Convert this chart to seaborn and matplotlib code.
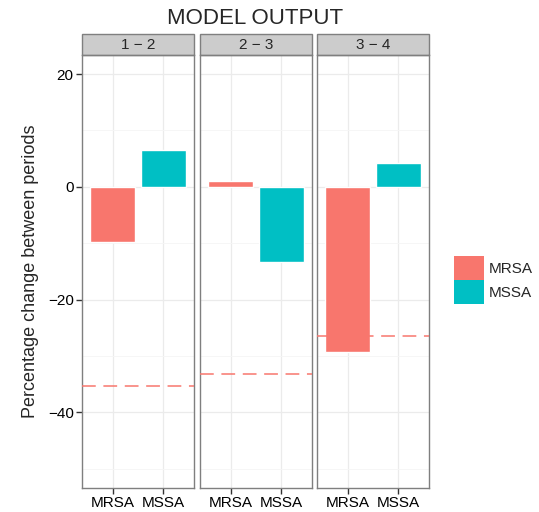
"""Model output: percentage change between periods, faceted by period pair."""

import matplotlib.pyplot as plt
import pandas as pd
import seaborn as sns
from matplotlib.patches import Patch, Rectangle

periods = ["1 \u2212 2", "2 \u2212 3", "3 \u2212 4"]
organisms = ["MRSA", "MSSA"]
mrsa_change = [-9.8, 1.0, -29.3]
mssa_change = [6.5, -13.4, 4.3]
threshold = [-35.4, -33.3, -26.4]

colors = {"MRSA": "#F8766D", "MSSA": "#00BFC4"}

df = pd.DataFrame({
    "period": periods * 2,
    "organism": ["MRSA"] * 3 + ["MSSA"] * 3,
    "change": mrsa_change + mssa_change,
})

sns.set_theme(style="white")
plt.rcParams["font.family"] = ["Liberation Sans", "DejaVu Sans"]

W, H = 539, 512
fig = plt.figure(figsize=(W / 100, H / 100), dpi=100)

lefts = [82, 200, 317]
pw = 112
top, bottom = 55, 487.7
strip_h = 21

axes = []
for i, period in enumerate(periods):
    ax = fig.add_axes([lefts[i] / W, 1 - bottom / H, pw / W, (bottom - top) / H])
    axes.append(ax)
    sub = df[df["period"] == period]
    sns.barplot(data=sub, x="organism", y="change", hue="organism",
                order=organisms, hue_order=organisms, palette=colors,
                width=0.9, dodge=False, legend=False, saturation=1, ax=ax)
    ax.axhline(threshold[i], color=colors["MRSA"], lw=1.1, ls=(0, (9, 5)), zorder=3)

    ax.set_xlim(-0.6, 1.6)
    ax.set_ylim(-53.4, 23.4)
    ax.set_xticks([0, 1])
    ax.set_xticklabels(organisms, fontsize=11, color="black")
    ax.set_yticks([20, 0, -20, -40])
    ax.set_yticks([10, -10, -30, -50], minor=True)
    if i == 0:
        ax.set_yticklabels(["20", "0", "\u221220", "\u221240"], fontsize=11, color="black")
        ax.set_ylabel("Percentage change between periods", fontsize=13, labelpad=6)
    else:
        ax.set_yticklabels([])
        ax.set_ylabel("")
        ax.tick_params(axis="y", length=0)
    ax.set_xlabel("")

    ax.grid(True, which="major", color="#EBEBEB", lw=0.9)
    ax.grid(True, which="minor", axis="y", color="#F5F5F5", lw=0.6)
    ax.set_axisbelow(True)
    for s in ax.spines.values():
        s.set_color("#7F7F7F")
        s.set_linewidth(1.0)
    ax.tick_params(axis="both", which="major", length=4, width=1, color="#333333",
                   direction="out", pad=2, left=(i == 0), bottom=True)
    ax.tick_params(axis="y", which="minor", length=0)

    sh = strip_h / (bottom - top)
    ax.add_patch(Rectangle((0, 1), 1, sh, transform=ax.transAxes, clip_on=False,
                           facecolor="#CCCCCC", edgecolor="#7F7F7F", lw=1.0))
    ax.text(0.5, 1 + sh / 2, period, transform=ax.transAxes, ha="center",
            va="center", fontsize=11)

fig.text(0.5 * (lefts[0] + lefts[2] + pw) / W, 1 - 18 / H, "MODEL OUTPUT",
         ha="center", va="center", fontsize=16)

handles = [Patch(facecolor=colors[o], edgecolor="none", label=o) for o in organisms]
fig.legend(handles=handles, loc="center left", bbox_to_anchor=(443 / W, 1 - 280 / H),
           frameon=False, fontsize=11, handlelength=2.0, handleheight=2.0,
           handletextpad=0.3, labelspacing=0.0, borderpad=0.2)

fig.savefig("out.png", dpi=100)
